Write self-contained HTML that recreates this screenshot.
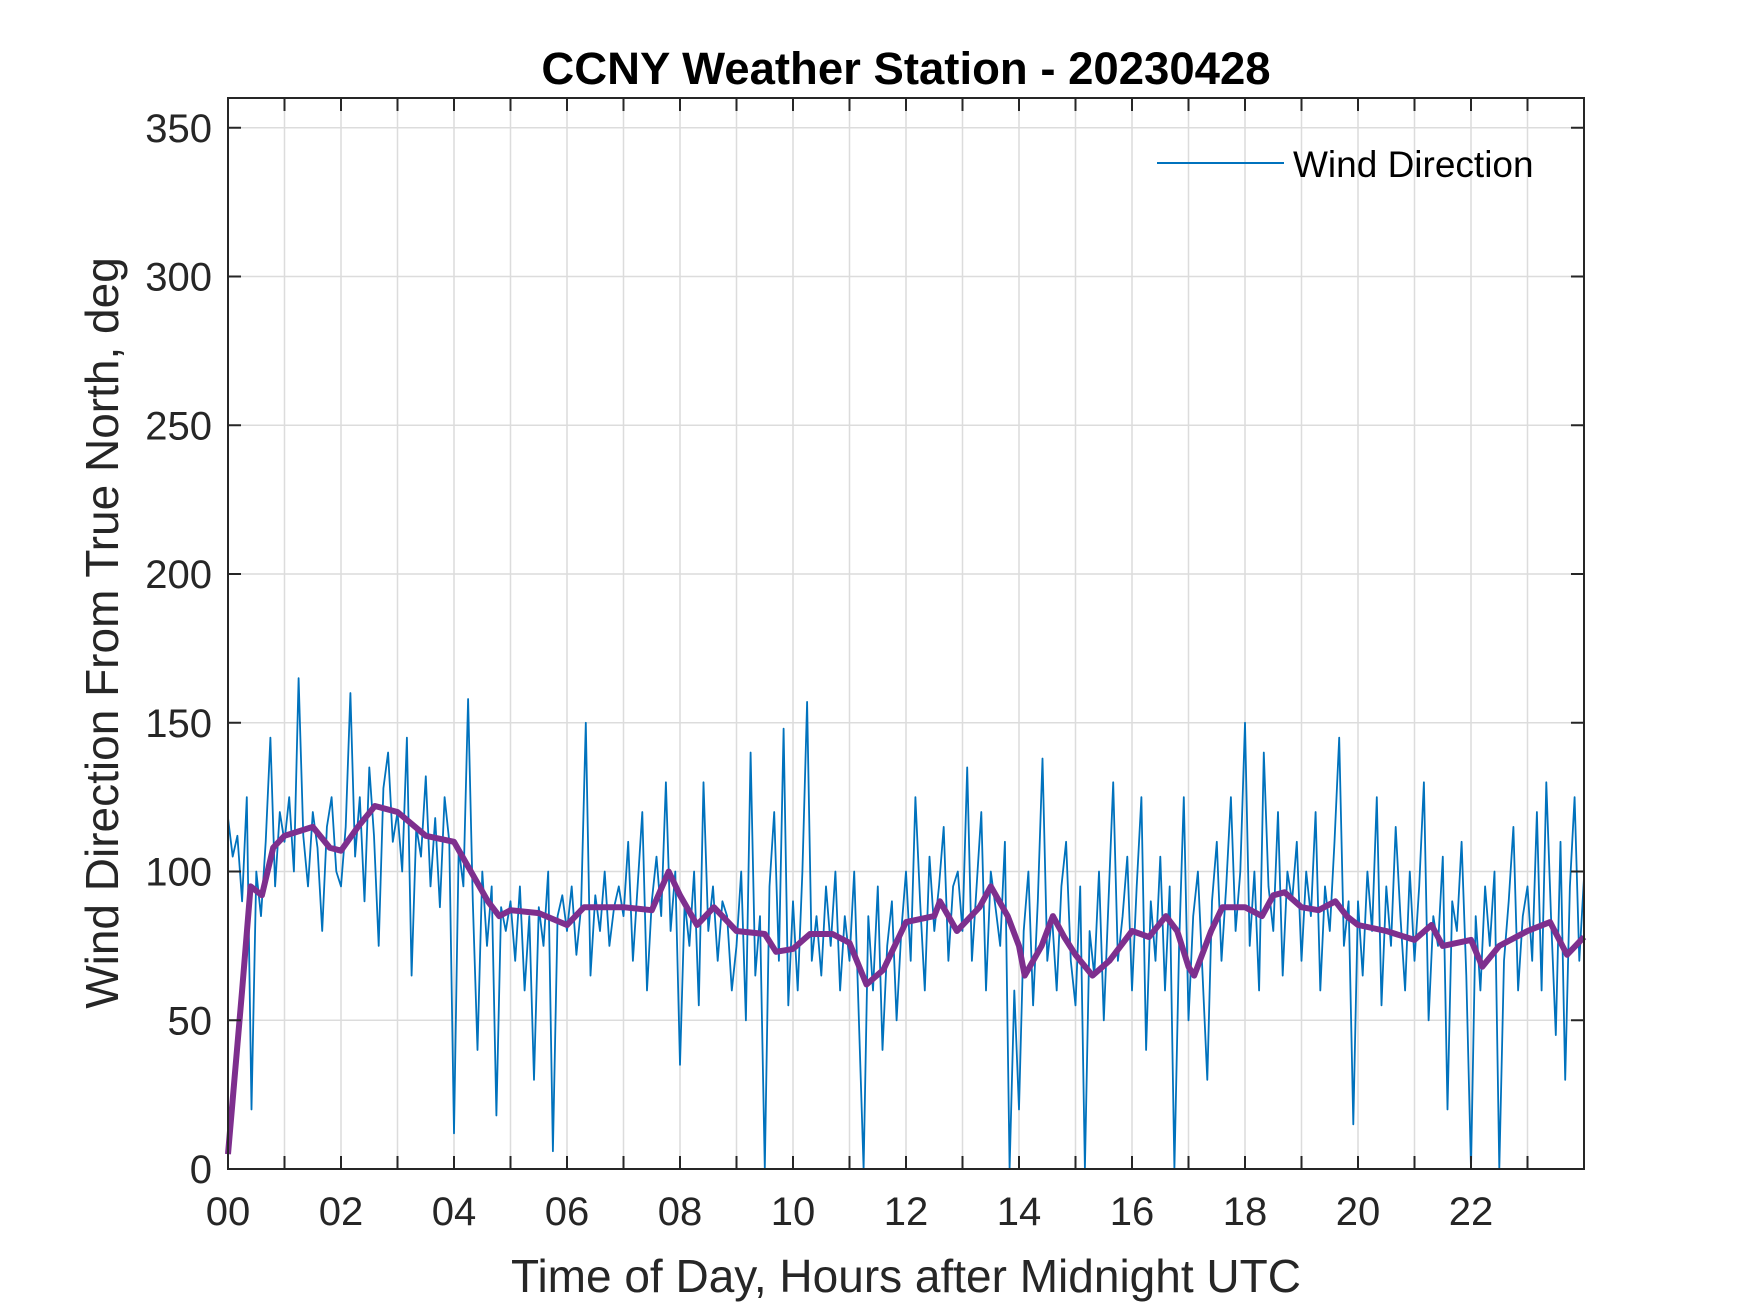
<!DOCTYPE html>
<html><head><meta charset="utf-8"><style>
html,body{margin:0;padding:0;background:#fff;}
svg{display:block;font-family:"Liberation Sans",Arial,sans-serif;}
</style></head><body>
<svg id="chart" width="1750" height="1313" viewBox="0 0 1750 1313">
<rect width="1750" height="1313" fill="#fff"/>
<g id="grid"></g>
<g id="series"></g>
<g id="axes"></g>
<text x="906" y="84" text-anchor="middle" font-size="45.5" font-weight="bold" fill="#000">CCNY Weather Station - 20230428</text>
<text x="906" y="1292" text-anchor="middle" font-size="46" fill="#262626">Time of Day, Hours after Midnight UTC</text>
<text transform="translate(118,633) rotate(-90)" text-anchor="middle" font-size="46" fill="#262626">Wind Direction From True North, deg</text>
<g>
<line x1="1157" y1="163" x2="1284" y2="163" stroke="#0072BD" stroke-width="2"/>
<text x="1293" y="177" font-size="37" fill="#000">Wind Direction</text>
</g>
</svg>
<script>
const blueVals = [
118,105,112,90,125,20,100,85,110,145,95,120,
110,125,100,165,112,95,120,108,80,115,125,100,
95,115,160,105,125,90,135,112,75,128,140,110,
120,100,145,65,115,105,132,95,118,88,125,110,
12,108,95,158,90,40,100,75,95,18,88,80,
90,70,95,60,85,30,88,75,100,6,85,92,
80,95,72,88,150,65,92,80,100,75,88,95,
85,110,70,95,120,60,90,105,85,130,80,100,
35,90,75,100,55,130,80,95,70,90,85,60,
75,100,50,140,65,85,0,95,120,70,148,55,
90,60,100,157,70,85,65,95,75,100,60,85,
70,100,50,0,85,60,95,40,75,90,50,80,
100,70,125,90,60,105,80,95,115,70,95,100,
80,135,70,95,120,60,100,88,75,110,0,60,
20,80,100,55,90,138,70,85,60,95,110,70,
55,95,0,80,65,100,50,90,130,70,85,105,
60,95,125,40,90,70,105,60,95,0,75,125,
50,85,100,65,30,90,110,70,95,125,80,100,
150,75,100,60,140,95,80,120,65,100,90,110,
70,100,85,120,60,95,80,110,145,75,90,15,
90,65,100,80,125,55,95,75,115,85,60,100,
70,95,130,50,85,75,105,20,90,80,110,65,
0,85,60,95,75,100,0,70,90,115,60,85,
95,70,120,60,130,85,45,110,30,95,125,70,98];
const trendHours = [0,0.25,0.4,0.6,0.8,1,1.5,1.8,2,2.3,2.6,3,3.5,4,4.3,4.6,4.8,5,5.5,6,6.3,7,7.5,7.8,8,8.3,8.6,9,9.5,9.7,10,10.3,10.7,11,11.3,11.6,12,12.5,12.6,12.9,13.3,13.5,13.8,14,14.1,14.4,14.6,14.8,15,15.3,15.6,16,16.3,16.6,16.8,17,17.1,17.4,17.6,18,18.3,18.5,18.7,19,19.3,19.6,19.8,20,20.5,21,21.3,21.5,22,22.2,22.5,23,23.4,23.7,24];
const trendVals = [5,60,95,92,108,112,115,108,107,115,122,120,112,110,100,90,85,87,86,82,88,88,87,100,92,82,88,80,79,73,74,79,79,76,62,67,83,85,90,80,88,95,85,75,65,75,85,78,72,65,70,80,78,85,80,68,65,80,88,88,85,92,93,88,87,90,85,82,80,77,82,75,77,68,75,80,83,72,78];
const xTickVals = [0,2,4,6,8,10,12,14,16,18,20,22];
const xTickLabels = ["00","02","04","06","08","10","12","14","16","18","20","22"];
const yTickVals = [0,50,100,150,200,250,300,350];

const L=228,R=1584,T=98,B=1169;
const xS=h=>L+(h/24)*(R-L);
const yS=v=>B-(v/360)*(B-T);
const NS="http://www.w3.org/2000/svg";
function mk(tag,attrs,parent){const e=document.createElementNS(NS,tag);for(const k in attrs)e.setAttribute(k,attrs[k]);parent.appendChild(e);return e;}
const grid=document.getElementById('grid'),series=document.getElementById('series'),axes=document.getElementById('axes');

for(let h=1;h<24;h++){
  const g=mk('line',{x1:xS(h),x2:xS(h),y1:T,y2:B,stroke:'#dcdcdc','stroke-width':1.5},grid);
  
  
}
yTickVals.forEach(v=>{
  const g=mk('line',{x1:L,x2:R,y1:yS(v),y2:yS(v),stroke:'#dcdcdc','stroke-width':1.5},grid);
  
  
});

const step=24/(blueVals.length-1);
const bp=blueVals.map((v,i)=>xS(i*step).toFixed(1)+','+yS(v).toFixed(1)).join(' ');
const bl=mk('polyline',{points:bp,fill:'none',stroke:'#0072BD','stroke-width':1.8,'stroke-linejoin':'round'},series);


const tp=trendVals.map((v,i)=>xS(trendHours[i]).toFixed(1)+','+yS(v).toFixed(1)).join(' ');
const tl=mk('polyline',{points:tp,fill:'none',stroke:'#7E2F8E','stroke-width':6,'stroke-linejoin':'round'},series);



const box=mk('rect',{x:L,y:T,width:R-L,height:B-T,fill:'none',stroke:'#262626','stroke-width':2},axes);


for(let h=1;h<24;h++){
  const t1=mk('line',{x1:xS(h),x2:xS(h),y1:B,y2:B-13,stroke:'#262626','stroke-width':2},axes);
  
  
  const t2=mk('line',{x1:xS(h),x2:xS(h),y1:T,y2:T+13,stroke:'#262626','stroke-width':2},axes);
  
  
}
xTickVals.forEach((v,i)=>{
  const t=mk('text',{x:xS(v),y:B+56,'text-anchor':'middle','font-size':40,fill:'#262626'},axes);
  t.textContent=xTickLabels[i];
  
  
});
yTickVals.forEach(v=>{
  const a=mk('line',{x1:L,x2:L+13,y1:yS(v),y2:yS(v),stroke:'#262626','stroke-width':2},axes);
  
  
  const b=mk('line',{x1:R,x2:R-13,y1:yS(v),y2:yS(v),stroke:'#262626','stroke-width':2},axes);
  
  
  const t=mk('text',{x:L-16,y:yS(v)+14,'text-anchor':'end','font-size':40,fill:'#262626'},axes);
  t.textContent=String(v);
  
  
});
</script>
</body></html>
